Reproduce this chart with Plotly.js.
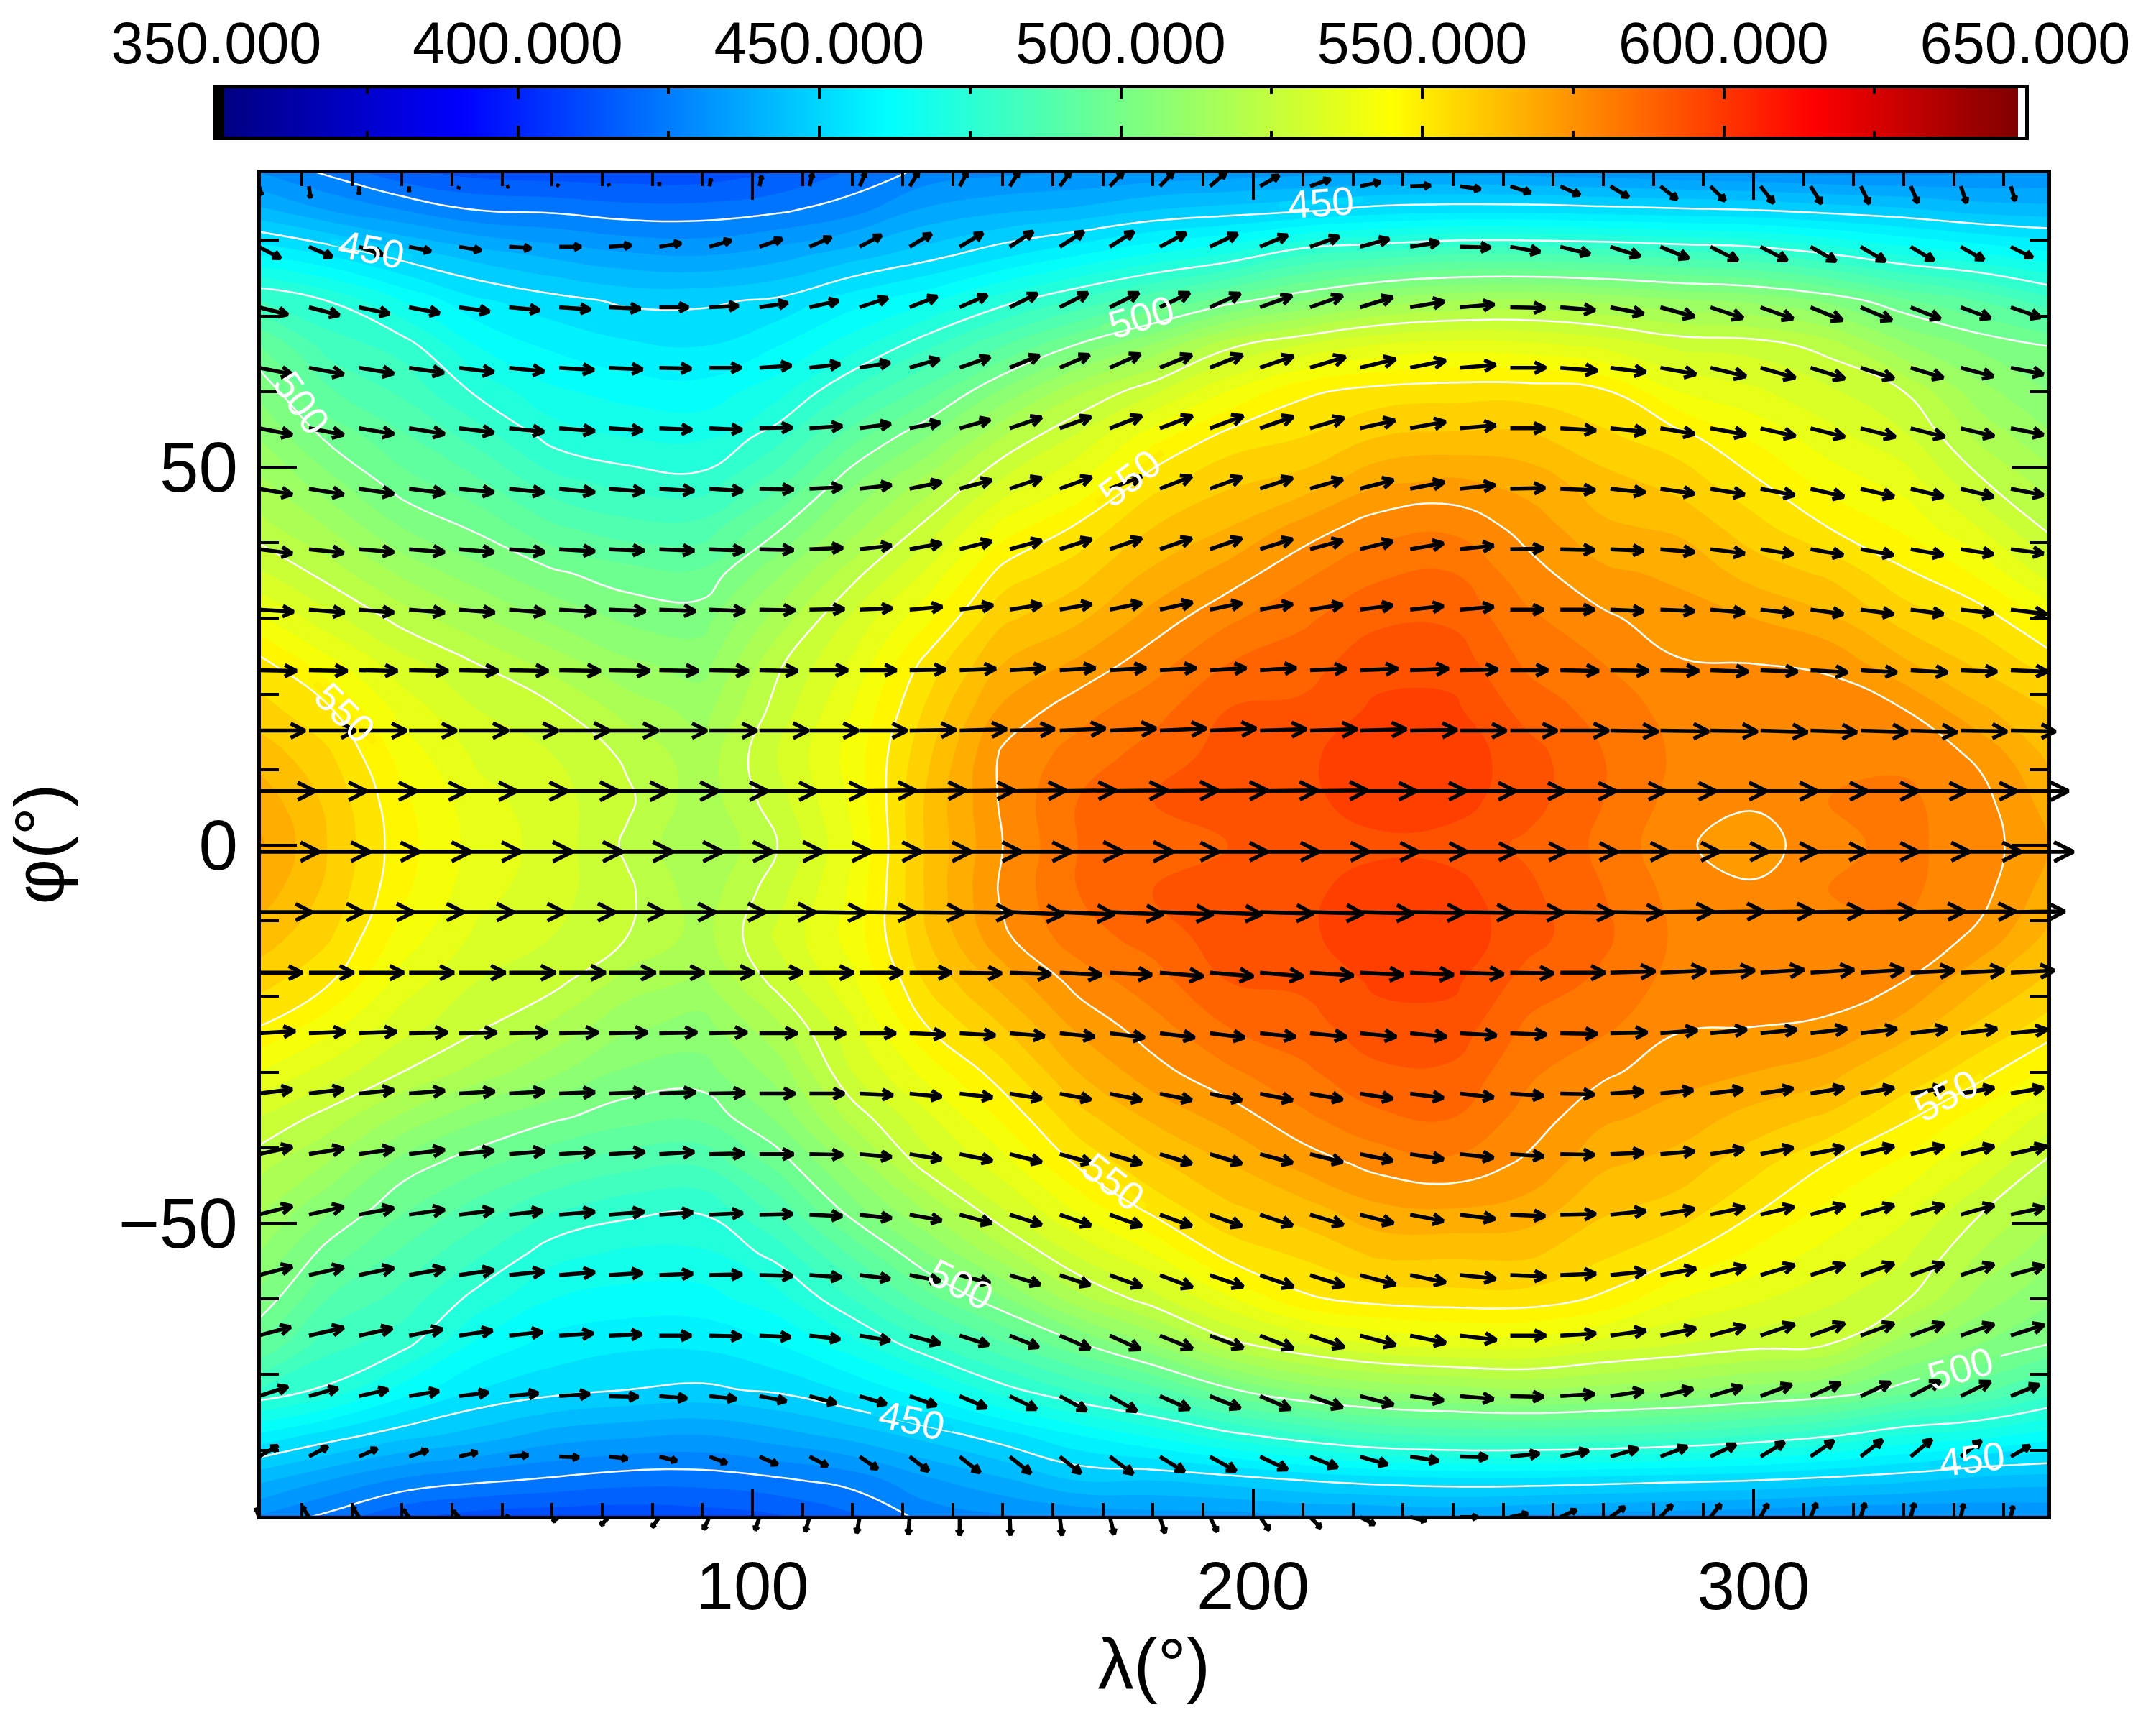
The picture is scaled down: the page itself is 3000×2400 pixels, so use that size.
<!DOCTYPE html>
<html>
<head>
<meta charset="utf-8">
<script src="https://cdn.plot.ly/plotly-3.0.1.min.js"></script>
<style>body{margin:0;background:#fff}</style>
</head>
<body>
<div id="plot" style="width:3000px;height:2400px"></div>
<script>
const tempLon = [1.3,15,30,45,60,75,90,105,120,135,150,165,180,195,210,225,240,255,270,285,300,315,330,345,358.8];
const tempLat = [89.5,84,78,72,66,60,54,48,42,36,30,24,18,12,6,0,-6,-12,-18,-24,-30,-36,-42,-48,-54,-60,-66,-72,-78,-84,-89.5];
// una riga per longitudine, dal polo nord al polo sud
const tempByLon = [
[429,441,460,481,496,504,510,516,522,531,541,552,557,563,568,571,568,563,557,550,540,530,522,516,510,504,495,480,459,441,428],
[423,435,455,475,483,491,499,507,515,523,532,542,551,556,559,560,559,556,551,542,533,523,515,506,498,490,482,474,453,435,422],
[415,430,448,465,478,484,491,497,505,514,523,532,538,543,546,547,546,543,538,532,525,514,503,496,489,483,477,463,447,429,414],
[412,425,443,456,465,474,483,491,499,507,516,525,530,534,537,538,537,534,530,526,518,506,497,488,481,473,464,455,443,426,411],
[411,424,439,452,459,466,473,482,491,501,509,518,526,530,532,533,532,530,527,519,511,501,491,481,472,465,458,452,438,424,410],
[411,422,436,449,456,463,470,478,487,497,504,511,518,524,526,524,526,525,518,511,504,497,487,477,469,463,456,450,436,422,410],
[411,422,435,449,455,462,469,477,487,496,503,508,513,517,517,515,517,518,514,508,503,496,486,476,469,463,456,449,435,422,411],
[414,424,438,451,460,468,478,488,499,509,517,524,527,530,528,525,528,531,527,519,512,506,497,487,477,468,460,451,438,424,413],
[420,428,443,458,468,481,493,504,513,523,531,536,540,542,541,540,541,542,539,534,530,522,512,503,491,480,468,456,442,427,418],
[426,436,448,464,479,492,505,517,527,536,544,552,556,559,561,561,561,560,556,550,542,534,528,516,505,493,479,463,447,434,426],
[428,439,454,473,490,506,520,531,542,552,559,565,571,576,576,575,576,574,567,560,553,546,538,530,518,504,489,473,453,439,428],
[429,441,460,481,501,519,531,540,551,558,564,571,578,582,585,585,585,583,577,571,565,558,551,541,531,518,499,481,460,445,429],
[430,445,466,489,511,529,543,553,560,566,572,578,583,587,590,590,590,587,583,578,573,566,559,552,540,528,510,488,466,445,431],
[431,447,471,498,524,540,552,559,565,572,579,585,590,592,591,590,591,593,590,585,579,572,565,559,552,539,523,499,473,447,431],
[432,449,480,505,531,549,555,562,572,579,584,588,591,594,594,592,594,594,591,588,584,579,572,563,556,549,530,507,479,450,432],
[432,452,483,512,536,552,560,569,578,584,589,593,596,598,597,594,597,598,596,593,589,584,577,569,561,552,535,511,484,452,432],
[432,453,486,515,538,553,561,571,579,585,589,593,596,598,597,593,597,598,596,593,589,585,579,570,561,553,537,513,486,453,433],
[431,453,486,516,537,553,561,568,573,577,581,584,588,592,592,589,591,592,588,584,581,578,574,568,561,553,537,515,486,453,431],
[430,452,485,514,534,551,556,562,566,571,576,580,583,585,585,584,585,586,584,581,576,571,566,561,556,549,533,513,485,452,430],
[429,451,483,511,529,540,552,558,564,569,572,575.5,578,579,578,576,578,579,578,575.5,572,568,563,558,551,540,530,511,483,451,429],
[428,450,481,509,528,536,544,551,557,563,570,575,577,578,576,572,576,578,577,575,570,563,557,551,544,536,527,508,480,450,428],
[427,448,476,504,523,531,537,543,550,559,566,574,578,580,580,579,580,580,578,574,567,559,550,544,538,531,525,505,476,448,427],
[427,446,470,496,511,525,531,538,544,551,558,566,575,579,581,581,581,579,575,568,559,551,544,537,531,526,512,498,470,446,427],
[428,443,466,490,504,512,519,526,535,544,553,559,566,574,577,578,577,574,566,559,552,543,535,526,520,513,505,492,467,443,428],
[429,442,462,482,500,505,511,518,524,533,544,553,560,564,568,570,568,564,559,553,544,533,524,518,512,506,500,483,463,442,429]
];

// etichette dei contorni
const labelText = ['450','450','500','500','550','550','550','500','450','550','500','450'];
const labelLon = [23.9,213.6,10,177.7,18.6,175.4,172,141.6,131.9,338.5,341.4,343.6];
const labelLat = [78.8,85,58.5,69.9,17.5,48.6,-44.5,-58.1,-76,-33.1,-69.2,-81.2];
const labelAngle = [11,-4,55,-16,45,-38,38,27,12,-28,-16,-7];

// vettori vento: una colonna ogni 10 gradi, una riga ogni 8 gradi
const arrowLon = [1.4,11.4,21.4,31.4,41.4,51.4,61.4,71.4,81.4,91.4,101.4,111.4,121.4,131.4,141.4,151.4,161.4,171.4,181.4,191.4,201.4,211.4,221.4,231.4,241.4,251.4,261.4,271.4,281.4,291.4,301.4,311.4,321.4,331.4,341.4,351.4];
const arrowLat = [87.15,79.15,71.15,63.15,55.15,47.15,39.15,31.15,23.15,15.15,7.15,-0.85,-8.85,-16.85,-24.85,-32.85,-40.85,-48.85,-56.85,-64.85,-72.85,-80.85,-88.85];
const windU = [
[4,2,0,0,-1,-3,-3,-1,0,2,3,4,8,12,10,12,14,18,18,22,26,28,28,28,28,28,27,25,23,20,18,15,12,10,8,6],
[30,32,33,30,30,30,30,30,30,30,31,30,30,30,32,32,33,33,36,38,38,40,40,40,42,41,41,41,39,38,37,35,34,32,32,30],
[40,42,42,42,42,42,43,43,40,40,39,40,39,38,38,38,39,40,41,42,44,45,45,47,47,48,48,46,47,45,45,44,43,41,41,41],
[46,48,48,48,48,48,48,46,44,44,44,42,42,41,42,41,41,42,44,45,46,49,49,49,49,49,51,49,49,49,48,47,46,45,45,45],
[46,48,48,49,48,48,49,46,45,45,45,45,43,42,42,44,43,44,45,46,46,47,48,49,49,48,49,49,47,49,48,47,48,47,46,45],
[46,48,48,49,48,48,49,48,48,46,47,45,44,44,44,44,44,44,44,44,45,45,46,47,48,48,48,48,47,47,47,46,46,45,45,45],
[46,48,48,49,48,49,49,48,48,48,47,46,44,44,44,44,44,44,44,44,45,45,45,46,46,46,47,46,47,47,45,45,45,45,45,45],
[48,49,48,49,49,50,51,50,50,49,49,48,45,45,46,44,44,44,45,44,45,45,45,46,46,46,47,46,47,47,45,45,45,45,45,49],
[52,53,53,54,54,54,57,56,54,54,53,53,51,50,50,49,49,50,50,50,50,50,52,53,52,52,53,53,53,52,51,51,50,51,50,51],
[64,65,66,66,68,68,70,68,66,66,68,68,66,64,65,62,63,64,64,64,64,65,64,65,64,65,67,66,67,65,65,64,65,64,64,62],
[78,80,80,80,80,81,82,82,82,81,80,80,78,78,76,78,78,80,81,80,80,80,78,78,77,76,77,77,77,78,79,79,80,78,78,80],
[84,85,84,86,86,88,88,88,88,88,88,86,86,86,86,86,88,88,82,80,82,82,81,79,78,78,79,81,82,80,79,78,80,82,84,87],
[74,76,76,76,76,77,78,77,78,78,78,78,78,76,74,75,76,74,74,72,74,74,74,75,74,74,74,73,73,74,74,74,76,75,76,75],
[60,62,62,62,64,64,64,64,62,62,60,61,60,58,58,57,58,58,60,60,60,60,60,60,60,60,62,62,63,61,60,60,60,60,60,60],
[50,50,52,53,52,53,54,53,52,52,52,50,50,49,49,48,48,48,48,48,49,50,50,50,50,50,51,51,51,50,50,50,50,50,50,50],
[46,48,48,49,49,49,49,49,50,49,49,48,46,44,45,44,43,44,44,44,45,45,45,46,46,46,47,46,45,45,45,46,46,46,46,45],
[46,48,48,49,48,49,49,49,48,48,47,46,44,44,45,44,44,44,44,44,45,45,45,46,46,46,47,46,47,46,45,46,46,46,46,49],
[46,48,48,49,48,46,49,48,46,46,46,45,44,44,44,44,43,44,44,44,45,46,46,46,48,48,49,49,47,47,46,47,46,46,46,46],
[46,48,48,49,48,48,49,46,46,45,46,44,42,42,42,42,42,44,45,46,46,47,49,49,49,49,49,49,49,49,47,47,46,46,46,46],
[44,48,46,46,46,46,47,45,44,44,43,42,42,42,40,40,42,42,45,46,46,47,49,49,50,49,49,49,49,48,47,47,46,46,46,46],
[40,40,40,41,40,40,42,40,38,37,37,37,37,37,37,37,37,37,41,42,42,45,46,46,46,46,47,46,45,44,43,41,41,41,41,39],
[26,26,25,26,25,26,27,25,24,24,25,25,25,26,28,29,29,32,34,36,38,38,38,39,38,40,39,38,37,35,33,32,30,29,28,26],
[-4,-9,-9,-8,-8,-4,-9,-12,-10,-8,-6,-6,-4,-2,0,1,3,6,7,10,13,15,20,22,24,24,22,20,16,14,10,8,6,5,4,3]
];
const windV = [
[-12,-16,-11,-7,-3,-1,2,3,5,10,14,17,18,19,19,19,19,19,19,19,15,10,6,1,-4,-9,-12,-15,-18,-20,-23,-24,-24,-23,-23,-20],
[-16,-14,-11,-6,-5,-2,0,2,5,9,11,13,16,18,19,21,21,21,19,18,16,14,11,6,-1,-7,-10,-13,-16,-19,-19,-20,-20,-19,-18,-15],
[-10,-11,-9,-8,-6,-4,-3,-2,0,2,6,9,13,15,17,19,20,20,20,19,16,16,14,8,4,-1,-4,-9,-13,-15,-16,-18,-18,-16,-15,-14],
[-9,-9,-8,-7,-6,-5,-3,-2,-1,0,3,5,7,12,15,17,18,19,18,18,16,15,12,10,4,0,-4,-6,-9,-12,-14,-15,-15,-14,-12,-9],
[-9,-9,-8,-8,-6,-5,-4,-3,-2,-2,1,3,6,8,12,15,16,17,17,17,16,14,11,9,4,0,-3,-5,-8,-9,-11,-12,-12,-12,-11,-9],
[-8,-8,-7,-6,-5,-5,-5,-4,-3,-3,-1,2,5,9,12,15,16,17,17,16,15,13,12,9,5,1,-2,-5,-7,-8,-9,-11,-11,-11,-11,-9],
[-6,-5,-4,-4,-4,-4,-3,-2,-2,-2,-1,2,5,8,11,12,14,15,15,15,14,12,11,8,5,1,-1,-2,-4,-6,-7,-8,-8,-8,-7,-6],
[-3,-4,-4,-4,-4,-4,-3,-2,-2,-2,-1,1,2,4,6,7,8,9,10,9,8,7,6,5,4,0,0,-2,-2,-4,-5,-6,-6,-6,-5,-6],
[-1,-1,-1,-1,-1,-1,-1,-1,-1,-1,-1,0,0,1,2,3,3,3,3,3,3,2,2,2,1,0,-1,-1,-1,-2,-2,-3,-3,-3,-2,-2],
[0,0,0,0,0,0,0,0,0,0,0,0,0,1,2,2,3,3,3,3,2,2,2,1,0,0,0,-1,-1,-1,-2,-2,-2,-2,-1,-1],
[0,0,0,0,0,0,0,0,0,0,0,0,1,1,1,1,1,1,1,1,1,1,0,0,0,0,0,0,0,0,0,0,0,0,0,0],
[0,0,0,0,0,0,0,0,0,0,0,0,0,0,0,0,0,0,0,0,0,0,0,0,0,0,0,0,0,0,0,0,0,0,0,0],
[0,0,0,0,0,0,0,0,0,0,0,-1,-1,-1,-1,-3,-3,-3,-3,-3,-2,-2,-2,-1,-1,-1,-1,-1,1,1,1,1,1,1,1,1],
[0,0,0,0,0,0,0,0,0,0,0,0,0,0,-1,-2,-3,-3,-5,-5,-5,-4,-3,-3,-2,-1,0,2,3,3,4,4,4,3,3,3],
[3,2,2,1,1,1,1,1,1,1,0,0,0,-2,-3,-4,-5,-6,-6,-6,-5,-5,-5,-5,-3,-2,-1,1,4,5,5,6,6,6,6,5],
[6,6,5,4,3,3,2,2,2,1,0,0,-2,-4,-5,-7,-8,-9,-9,-9,-9,-8,-7,-6,-5,-3,-1,3,5,6,7,8,8,8,8,8],
[10,8,7,6,5,4,3,3,3,1,0,-1,-4,-7,-9,-11,-12,-13,-13,-13,-12,-11,-9,-7,-5,-3,-1,2,4,7,9,9,11,11,11,11],
[12,11,9,7,6,5,4,4,3,2,1,-2,-5,-8,-12,-14,-15,-16,-16,-16,-15,-14,-12,-9,-6,-2,1,5,8,10,11,13,13,13,13,10],
[12,11,10,9,7,5,4,3,2,1,-1,-3,-5,-8,-11,-13,-14,-16,-17,-16,-16,-15,-13,-10,-5,-2,2,5,9,12,14,15,16,16,15,13],
[12,11,10,9,7,5,3,2,0,-1,-2,-5,-7,-11,-13,-16,-18,-19,-18,-17,-18,-16,-13,-10,-6,0,3,7,10,13,16,17,17,17,16,15],
[13,11,9,7,5,4,3,-1,-3,-4,-7,-10,-11,-13,-16,-18,-20,-21,-18,-17,-18,-16,-12,-6,-4,-1,3,7,10,13,16,18,19,21,20,16],
[15,14,11,9,6,2,-1,-3,-6,-9,-11,-13,-17,-20,-22,-23,-23,-24,-21,-20,-18,-15,-11,-6,-1,4,8,11,14,17,20,22,23,24,22,15],
[12,14,14,10,8,2,-6,-11,-14,-17,-18,-20,-22,-24,-25,-25,-25,-24,-22,-20,-18,-15,-10,-5,0,5,10,14,17,18,18,19,19,19,18,15]
];

// livelli della barra colori
const barLevels = [350,355,360,365,370,375,380,385,390,395,400,405,410,415,420,425,430,435,440,445,450,455,460,465,470,475,480,485,490,495,500,505,510,515,520,525,530,535,540,545,550,555,560,565,570,575,580,585,590,595,600,605,610,615,620,625,630,635,640,645,650];

const fontName = '"Liberation Sans", Arial, sans-serif';
const colori = [
    [0, 'rgb(0,0,0)'], [0.004, 'rgb(0,0,0)'],
    [0.004, 'rgb(0,0,130)'], [0.135, 'rgb(0,0,255)'],
    [0.371, 'rgb(0,255,255)'], [0.65, 'rgb(255,255,0)'],
    [0.883, 'rgb(255,0,0)'], [0.996, 'rgb(128,0,0)'],
    [0.996, 'rgb(255,255,255)'], [1, 'rgb(255,255,255)']
];
// colore di fondo sotto ogni etichetta, per interrompere la linea
const coloreFondo = { '450': 'rgb(0,215,255)', '500': 'rgb(118,255,137)', '550': 'rgb(255,237,0)' };

// px per grado sugli assi del riquadro
const pxLon = 6.965;
const pxLat = 10.52;
const lonDaPx = (px) => 1.36 + (px - 360) / pxLon;
const latDaPx = (py) => (1176 - py) / pxLat;

function costruisciFrecce() {
    const xs = [];
    const ys = [];
    arrowLat.forEach((lat, r) => {
        arrowLon.forEach((lon, c) => {
            const u = windU[r][c];
            const v = windV[r][c];
            const tipX = lon + u / pxLon;
            const tipY = lat + v / pxLat;
            // testa a V, proporzionale alla lunghezza
            const backX = -0.31 * u;
            const backY = -0.31 * v;
            const sideX = -0.155 * v;
            const sideY = 0.155 * u;
            xs.push(lon, tipX, null);
            ys.push(lat, tipY, null);
            xs.push(tipX + (backX + sideX) / pxLon, tipX, tipX + (backX - sideX) / pxLon, null);
            ys.push(tipY + (backY + sideY) / pxLat, tipY, tipY + (backY - sideY) / pxLat, null);
        });
    });
    return { x: xs, y: ys };
}

// tratti del colore di fondo che tagliano il contorno sotto le etichette
function tagliEtichette() {
    return labelText.map((testo, i) => {
        const a = labelAngle[i] * Math.PI / 180;
        const dx = 58 * Math.cos(a) / pxLon;
        const dy = 58 * Math.sin(a) / pxLat;
        return {
            type: 'scatter', mode: 'lines',
            x: [labelLon[i] - dx, labelLon[i] + dx],
            y: [labelLat[i] + dy, labelLat[i] - dy],
            line: { color: coloreFondo[testo], width: 9 }, hoverinfo: 'skip'
        };
    });
}

const frecce = costruisciFrecce();

const traces = [
    {
        type: 'contour', x: tempLon, y: tempLat, z: tempByLon, transpose: true,
        zmin: 350, zmax: 650, colorscale: colori, showscale: false,
        contours: { coloring: 'fill', start: 350, end: 650, size: 5, showlines: false },
        line: { width: 0, smoothing: 1.3 }, hoverinfo: 'skip'
    },
    {
        type: 'contour', x: tempLon, y: tempLat, z: tempByLon, transpose: true,
        showscale: false,
        contours: { coloring: 'none', start: 425, end: 575, size: 25 },
        line: { color: 'white', width: 2.5, smoothing: 1.3 }, hoverinfo: 'skip'
    },
    ...tagliEtichette(),
    {
        type: 'heatmap', x: barLevels, y: [0, 1], z: [barLevels, barLevels],
        xaxis: 'x2', yaxis: 'y2', zmin: 350, zmax: 650, zsmooth: 'best',
        colorscale: colori, showscale: false, hoverinfo: 'skip'
    },
    // le frecce escono dal riquadro: stanno su assi nascosti grandi come la pagina
    {
        type: 'scatter', mode: 'lines', x: frecce.x, y: frecce.y, xaxis: 'x3', yaxis: 'y3',
        line: { color: 'black', width: 5.5, simplify: false }, hoverinfo: 'skip'
    }
];

const layout = {
    width: 3000, height: 2400,
    margin: { l: 0, r: 0, t: 0, b: 0 },
    paper_bgcolor: 'white', plot_bgcolor: 'rgba(0,0,0,0)',
    showlegend: false,
    font: { family: fontName, color: 'black' },
    xaxis: {
        domain: [362.5 / 3000, 2849 / 3000], range: [lonDaPx(362.5), lonDaPx(2849)], anchor: 'y',
        tick0: 0, dtick: 100, ticks: 'inside', ticklen: 37, tickwidth: 4, tickcolor: 'black',
        minor: { dtick: 10, ticks: 'inside', ticklen: 18, tickwidth: 4, tickcolor: 'black' },
        showline: true, linewidth: 5, linecolor: 'black', mirror: 'allticks',
        showgrid: false, zeroline: false, ticklabelstandoff: 13,
        tickfont: { size: 94 },
        title: { text: 'λ(°)', font: { size: 100 }, standoff: 23 }
    },
    yaxis: {
        domain: [1 - 2108.5 / 2400, 1 - 240.5 / 2400], range: [latDaPx(2108.5), latDaPx(240.5)], anchor: 'x',
        tick0: 0, dtick: 50, ticks: 'inside', ticklen: 50, tickwidth: 4, tickcolor: 'black',
        minor: { dtick: 10, ticks: 'inside', ticklen: 25, tickwidth: 4, tickcolor: 'black' },
        showline: true, linewidth: 5, linecolor: 'black', mirror: 'allticks',
        showgrid: false, zeroline: false, ticklabelstandoff: 7,
        tickfont: { size: 98 },
        title: { text: 'φ(°)', font: { size: 98 }, standoff: 72 }
    },
    xaxis2: {
        domain: [301 / 3000, 2818 / 3000], range: [350, 650], anchor: 'y2', side: 'top',
        tick0: 350, dtick: 50, tickformat: '.3f', ticks: 'inside', ticklen: 15, tickwidth: 4, tickcolor: 'black',
        minor: { dtick: 25, ticks: 'inside', ticklen: 8, tickwidth: 4, tickcolor: 'black' },
        showline: true, linewidth: 5, linecolor: 'black', mirror: 'allticks',
        showgrid: false, zeroline: false, ticklabelstandoff: -2,
        tickfont: { size: 81 }
    },
    yaxis2: {
        domain: [1 - 190 / 2400, 1 - 123 / 2400], range: [0, 1], anchor: 'x2',
        showticklabels: false, ticks: '', showline: true, linewidth: 5, linecolor: 'black',
        mirror: true, showgrid: false, zeroline: false
    },
    xaxis3: { domain: [0, 1], range: [lonDaPx(0), lonDaPx(3000)], anchor: 'y3', visible: false },
    yaxis3: { domain: [0, 1], range: [latDaPx(2400), latDaPx(0)], anchor: 'x3', visible: false },
    annotations: labelText.map((testo, i) => ({
        x: labelLon[i], y: labelLat[i], xref: 'x', yref: 'y', text: testo, showarrow: false,
        textangle: labelAngle[i], font: { family: fontName, size: 55, color: 'white' }
    }))
};

Plotly.newPlot('plot', traces, layout, { displayModeBar: false, staticPlot: true });
</script>
</body>
</html>
